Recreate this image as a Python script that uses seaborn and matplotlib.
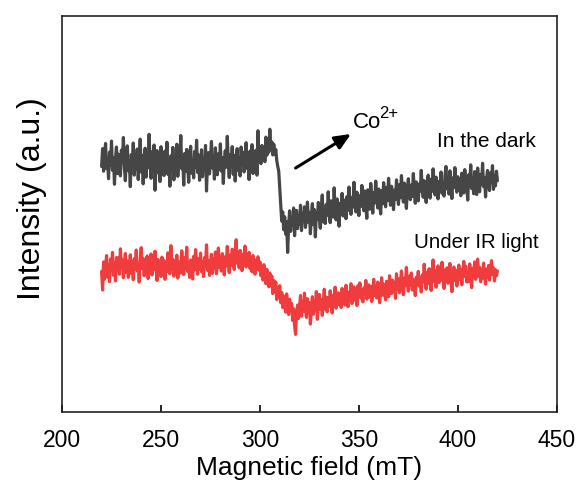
import numpy as np
import pandas as pd
import matplotlib
matplotlib.use("Agg")
import matplotlib.pyplot as plt
import seaborn as sns

# Magnetic field sweep (mT), 0.5 mT steps from 220 to 420
field_mT = [220 + 0.5 * i for i in range(401)]

# EPR signal, sample kept in the dark (arbitrary units)
dark = [
    62.0, 66.5, 60.8, 64.9, 67.8, 61.5, 63.7, 58.9, 65.6, 62.3,
    68.4, 61.0, 64.2, 57.5, 63.8, 66.9, 60.2, 65.1, 62.7, 59.6,
    66.1, 63.0, 69.3, 61.8, 58.4, 64.6, 67.2, 60.9, 63.4, 56.9,
    65.0, 62.2, 67.9, 59.8, 64.1, 61.3, 66.4, 58.7, 63.5, 68.9,
    60.6, 64.8, 57.6, 62.9, 66.6, 59.3, 65.4, 61.7, 70.1, 62.6,
    59.0, 65.7, 61.2, 67.4, 56.0, 63.1, 66.0, 60.4, 64.5, 58.2,
    67.0, 62.4, 64.0, 59.7, 65.9, 61.1, 68.1, 60.0, 63.6, 57.0,
    64.7, 62.0, 66.8, 58.6, 63.2, 61.6, 67.6, 59.5, 64.3, 62.8,
    69.8, 61.4, 63.9, 57.3, 65.3, 60.7, 66.3, 62.1, 58.0, 64.4,
    67.1, 60.3, 63.3, 59.1, 65.8, 61.9, 68.6, 60.5, 64.9, 58.5,
    62.5, 66.2, 59.4, 64.0, 61.0, 67.3, 55.8, 63.0, 65.5, 60.1,
    63.7, 68.3, 61.6, 64.6, 58.8, 66.7, 62.2, 59.9, 65.2, 61.3,
    67.7, 60.8, 64.2, 57.7, 63.4, 66.0, 61.8, 69.6, 62.9, 59.2,
    65.0, 62.6, 67.0, 60.0, 64.8, 58.3, 63.9, 66.5, 61.0, 64.1,
    59.6, 66.9, 62.3, 65.6, 60.6, 63.5, 68.0, 61.5, 64.6, 58.7,
    65.9, 62.8, 67.5, 60.2, 64.3, 62.0, 66.1, 59.8, 71.0, 63.3,
    65.4, 62.7, 67.3, 64.0, 66.8, 63.2, 69.4, 64.8, 67.0, 65.6,
    71.4, 66.4, 68.2, 64.9, 67.6, 65.0, 66.3, 63.5, 62.0, 60.8,
    56.5, 52.0, 48.2, 50.5, 46.0, 49.3, 44.9, 48.1, 40.3, 47.0,
    50.8, 45.6, 49.0, 47.2, 51.5, 44.5, 48.7, 50.9, 46.3, 49.6,
    47.5, 52.2, 45.8, 50.0, 48.3, 51.8, 46.6, 49.4, 53.0, 47.9,
    50.4, 45.0, 49.8, 52.6, 47.3, 51.1, 44.2, 50.2, 48.6, 52.9,
    49.1, 46.4, 51.4, 54.8, 48.0, 50.7, 47.6, 52.4, 49.7, 55.6,
    50.1, 47.8, 53.3, 51.0, 49.2, 56.6, 50.6, 48.5, 53.8, 51.6,
    46.9, 52.7, 50.3, 55.2, 49.5, 53.5, 51.3, 48.8, 54.4, 50.9,
    56.8, 52.1, 49.9, 54.1, 51.7, 58.0, 53.1, 50.5, 55.5, 52.5,
    49.6, 54.6, 51.9, 57.2, 53.6, 50.8, 55.8, 52.3, 48.9, 56.1,
    53.2, 51.2, 57.7, 54.0, 50.2, 55.4, 52.8, 58.3, 54.3, 51.5,
    56.3, 53.0, 50.0, 55.9, 52.6, 57.9, 54.5, 51.8, 56.7, 53.4,
    59.0, 54.9, 52.2, 57.0, 55.3, 51.1, 56.0, 53.7, 58.6, 55.0,
    52.4, 57.4, 54.1, 59.7, 55.6, 53.0, 57.8, 54.7, 51.4, 56.4,
    58.9, 55.1, 53.6, 57.3, 54.4, 60.2, 56.2, 52.7, 58.1, 55.4,
    53.3, 57.6, 55.8, 61.0, 56.6, 54.2, 58.4, 55.9, 52.9, 57.5,
    59.8, 56.1, 54.0, 58.8, 55.7, 61.4, 57.1, 54.8, 59.3, 56.5,
    53.8, 58.2, 56.9, 60.6, 55.2, 57.7, 54.5, 59.6, 62.0, 56.3,
    58.6, 55.0, 60.9, 57.2, 53.9, 59.1, 56.7, 61.7, 57.9, 55.5,
    59.4, 56.0, 58.7, 54.6, 60.3, 57.4, 55.3, 61.2, 58.0, 56.8,
    53.5, 59.9, 57.0, 62.4, 56.4, 58.5, 55.1, 60.7, 57.3, 54.9,
    61.6, 58.3, 55.6, 60.0, 57.6, 62.8, 56.9, 59.2, 54.3, 58.9,
    61.0, 57.8, 55.9, 60.4, 58.1, 62.2, 56.2, 59.5, 57.1, 60.8,
    58.4,
]

# EPR signal under IR irradiation (arbitrary units)
ir_light = [
    35.5, 30.8, 37.9, 33.6, 36.4, 39.5, 34.1, 37.2, 32.9, 38.6,
    35.8, 40.3, 34.5, 37.7, 33.1, 39.0, 36.2, 38.9, 34.8, 41.2,
    36.6, 38.4, 33.9, 37.3, 40.0, 35.2, 38.1, 34.0, 36.9, 39.7,
    35.0, 37.8, 33.4, 38.7, 36.0, 40.9, 35.6, 37.4, 32.8, 38.2,
    41.5, 36.3, 38.8, 34.4, 37.0, 35.3, 39.4, 33.7, 37.6, 36.1,
    39.9, 34.6, 38.0, 35.9, 40.6, 36.8, 33.2, 38.5, 35.1, 37.5,
    34.2, 39.1, 36.5, 38.3, 33.5, 37.1, 35.4, 40.2, 36.7, 34.9,
    42.0, 36.0, 38.6, 34.3, 37.8, 35.7, 39.6, 33.8, 38.0, 36.4,
    35.1, 40.7, 37.0, 34.7, 38.9, 36.2, 41.6, 35.5, 37.6, 34.0,
    38.4, 36.6, 33.6, 39.3, 35.9, 41.0, 37.2, 34.8, 38.7, 36.1,
    40.1, 35.4, 37.9, 34.2, 39.0, 36.8, 42.2, 35.8, 38.2, 34.5,
    37.4, 39.8, 35.0, 38.6, 36.3, 40.4, 34.9, 37.7, 41.4, 36.5,
    38.9, 35.6, 40.0, 37.3, 34.6, 39.2, 36.9, 41.8, 37.8, 35.2,
    39.6, 37.1, 41.1, 38.3, 36.0, 40.5, 43.5, 37.6, 39.4, 36.4,
    40.8, 37.9, 35.7, 39.9, 38.2, 41.9, 36.6, 39.1, 37.0, 40.3,
    36.2, 38.7, 35.4, 39.5, 37.4, 34.8, 38.4, 36.1, 39.2, 35.8,
    37.9, 34.4, 36.8, 33.3, 37.2, 35.0, 32.4, 36.0, 33.8, 31.6,
    35.1, 32.0, 34.3, 29.9, 33.2, 30.6, 32.8, 28.4, 31.4, 29.0,
    31.9, 27.6, 30.2, 26.4, 29.3, 27.9, 25.2, 29.8, 26.8, 24.6,
    28.5, 25.8, 27.4, 23.1, 26.1, 21.8, 19.6, 24.9, 27.0, 23.6,
    26.5, 29.4, 24.2, 27.8, 25.4, 30.0, 26.9, 23.9, 28.6, 25.1,
    27.6, 22.2, 26.3, 29.1, 24.7, 28.1, 25.6, 30.4, 23.4, 27.2,
    29.7, 25.9, 28.3, 24.4, 27.5, 31.0, 26.0, 29.0, 25.3, 28.8,
    26.7, 30.6, 27.3, 25.0, 29.5, 27.7, 31.5, 26.2, 28.9, 30.1,
    27.1, 29.9, 26.4, 31.2, 28.4, 30.8, 27.0, 32.0, 28.0, 26.6,
    30.3, 28.6, 32.4, 27.4, 29.6, 31.6, 28.2, 30.7, 26.9, 31.9,
    29.2, 32.6, 28.7, 30.9, 27.8, 31.3, 29.8, 33.2, 28.5, 30.5,
    32.1, 29.0, 31.7, 27.9, 30.2, 33.5, 29.4, 31.8, 28.8, 32.8,
    30.0, 27.6, 31.1, 33.9, 29.5, 32.3, 30.6, 28.3, 33.0, 31.2,
    29.1, 34.4, 31.5, 29.9, 33.3, 30.4, 32.7, 28.7, 34.9, 31.0,
    33.6, 30.1, 32.5, 35.6, 31.4, 29.6, 33.8, 31.9, 36.5, 32.2,
    30.5, 34.3, 32.0, 35.1, 30.8, 33.4, 31.6, 29.4, 34.0, 32.6,
    35.5, 31.8, 33.7, 30.3, 34.6, 32.9, 37.3, 33.1, 31.0, 35.3,
    32.4, 36.2, 33.5, 30.7, 34.8, 38.4, 33.0, 35.8, 31.5, 34.1,
    36.9, 32.7, 35.0, 33.3, 37.8, 34.4, 31.2, 35.9, 33.6, 36.4,
    32.5, 35.4, 37.5, 33.9, 30.4, 34.7, 36.6, 33.2, 35.7, 31.8,
    34.9, 37.1, 33.4, 36.0, 32.1, 35.6, 38.0, 34.2, 36.8, 32.8,
    35.2, 33.0, 37.4, 34.5, 31.4, 36.3, 34.0, 37.9, 33.5, 35.5,
    38.6, 34.3, 36.5, 32.9, 35.8, 33.8, 37.6, 34.6, 32.3, 36.1,
    34.0, 37.0, 33.3, 35.4, 38.2, 34.7, 36.4, 33.1, 35.9, 34.4,
    35.6,
]

conditions = ["In the dark", "Under IR light"]
line_colors = ["#464646", "#f03c3c"]
x_ticks = [200, 250, 300, 350, 400, 450]

df = pd.DataFrame({
    "field": field_mT * 2,
    "intensity": dark + ir_light,
    "condition": [conditions[0]] * len(field_mT) + [conditions[1]] * len(field_mT),
})

sns.set_theme(style="white")
plt.rcParams["font.family"] = ["Liberation Sans", "DejaVu Sans"]
plt.rcParams["text.color"] = "black"
plt.rcParams["axes.labelcolor"] = "black"
plt.rcParams["xtick.color"] = "black"

fig = plt.figure(figsize=(5.77, 4.83), dpi=100)
ax = fig.add_axes([0.1075, 0.147, 0.8575, 0.82])

sns.lineplot(data=df, x="field", y="intensity", hue="condition",
             palette=dict(zip(conditions, line_colors)), linewidth=2.3,
             legend=False, ax=ax, estimator=None, sort=False)

ax.set_xlim(200, 450)
ax.set_ylim(0, 100)
ax.set_xticks(x_ticks)
ax.set_xticklabels([str(t) for t in x_ticks], fontsize=16.5)
ax.set_yticks([])
ax.tick_params(axis="x", direction="in", length=5, width=1.2, bottom=True, top=False,
               pad=12, colors="black", labelcolor="black")
for side in ["left", "right", "top", "bottom"]:
    ax.spines[side].set_visible(True)
    ax.spines[side].set_color("#222222")
    ax.spines[side].set_linewidth(1.2)

ax.set_xlabel("Magnetic field (mT)", fontsize=19, labelpad=3, color="black")
ax.set_ylabel("Intensity (a.u.)", fontsize=23, labelpad=6, color="black")
ax.yaxis.set_label_coords(-0.031, 0.54)

ax.text(389.5, 68.2, conditions[0], fontsize=15, va="center", ha="left", color="black")
ax.text(378.0, 42.7, conditions[1], fontsize=14.7, va="center", ha="left", color="black")
ax.text(347.0, 73.0, "Co", fontsize=16, va="center", ha="left", color="black")
ax.text(360.3, 75.4, "2+", fontsize=12, va="center", ha="left", color="black")
ax.annotate("", xy=(346.0, 70.2), xytext=(318.0, 61.6),
            arrowprops=dict(arrowstyle="-|>,head_length=0.8,head_width=0.35",
                            color="black", lw=2.2, shrinkA=0, shrinkB=0))

fig.savefig("out.png", dpi=100, facecolor="white")
